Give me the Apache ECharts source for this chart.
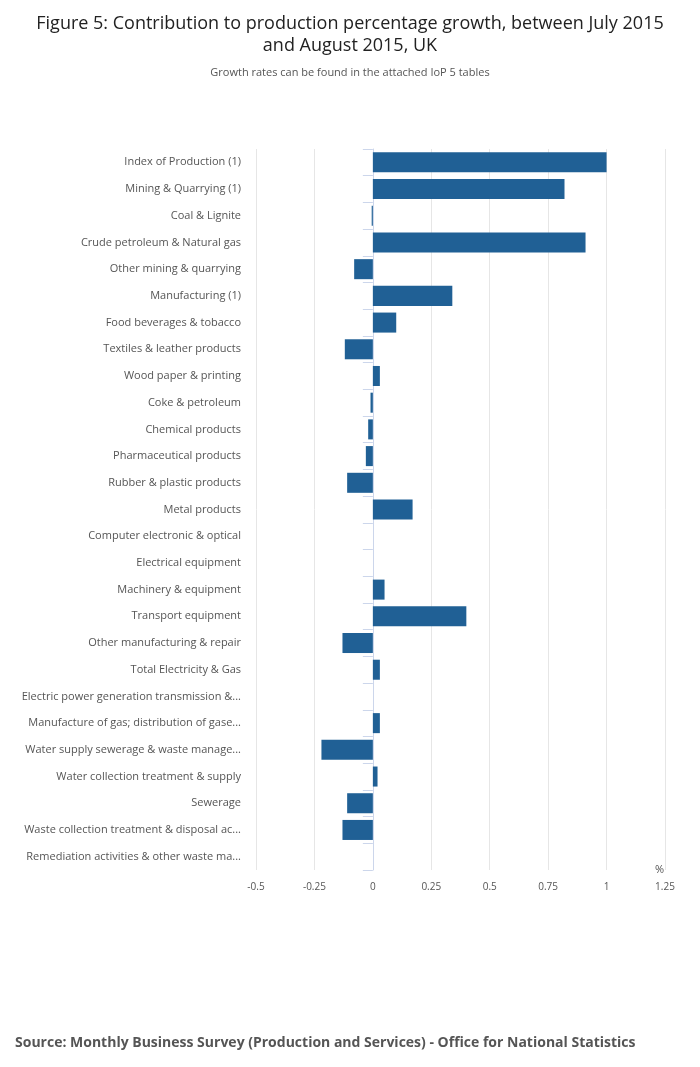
<!DOCTYPE html>
<html>
<head>
<meta charset="utf-8">
<script src="https://cdn.jsdelivr.net/npm/echarts@6/dist/echarts.min.js"></script>
<style>body{margin:0;background:#fff}#c{width:700px;height:1067px}</style>
</head>
<body>
<div id="c"></div>
<script>
var categories = ['Index of Production (1)', 'Mining & Quarrying (1)', 'Coal & Lignite', 'Crude petroleum & Natural gas',
  'Other mining & quarrying', 'Manufacturing (1)', 'Food beverages & tobacco', 'Textiles & leather products',
  'Wood paper & printing', 'Coke & petroleum', 'Chemical products', 'Pharmaceutical products',
  'Rubber & plastic products', 'Metal products', 'Computer electronic & optical', 'Electrical equipment',
  'Machinery & equipment', 'Transport equipment', 'Other manufacturing & repair', 'Total Electricity & Gas',
  'Electric power generation transmission &...', 'Manufacture of gas; distribution of gase...',
  'Water supply sewerage & waste manage...', 'Water collection treatment & supply', 'Sewerage',
  'Waste collection treatment & disposal ac...', 'Remediation activities & other waste ma...'];
var values = [1.0, 0.82, -0.005, 0.91, -0.08, 0.34, 0.1, -0.12, 0.03, -0.01, -0.02, -0.03, -0.11, 0.17,
  0, 0, 0.05, 0.4, -0.13, 0.03, 0, 0.03, -0.22, 0.02, -0.11, -0.13, 0];
var xTicks = [-0.5, -0.25, 0, 0.25, 0.5, 0.75, 1, 1.25];

var chart = echarts.init(document.getElementById('c'));
chart.setOption({
  title: [{
    text: 'Figure 5: Contribution to production percentage growth, between July 2015\nand August 2015, UK',
    left: 'center', top: 8,
    textStyle: {fontFamily: 'Open Sans', fontSize: 18, fontWeight: 'normal', color: '#222', lineHeight: 22},
    subtext: 'Growth rates can be found in the attached IoP 5 tables',
    subtextStyle: {fontFamily: 'Open Sans', fontSize: 11, color: '#555'}, itemGap: 10
  }, {
    text: 'Source: Monthly Business Survey (Production and Services) - Office for National Statistics',
    left: 10, top: 1031,
    textStyle: {fontFamily: 'Open Sans', fontSize: 14, fontWeight: 'bold', color: '#555'}
  }],
  grid: {left: 256, right: 35, top: 149, bottom: 197},
  xAxis: {
    type: 'value', min: -0.5, max: 1.25, interval: 0.25,
    name: '%', nameLocation: 'end', nameGap: 0,
    nameTextStyle: {fontFamily: 'Open Sans', fontSize: 11, color: '#555', padding: [45, 0, 0, -10]},
    axisLine: {show: false}, axisTick: {show: false},
    axisLabel: {fontFamily: 'Open Sans', fontSize: 10, color: '#555', margin: 12,
      formatter: function (v) { return xTicks.indexOf(v) >= 0 ? String(v) : ''; }},
    splitLine: {lineStyle: {color: '#e6e6e6'}}
  },
  yAxis: {
    type: 'category', data: categories, inverse: true,
    axisLine: {show: true, lineStyle: {color: '#ccd6eb'}},
    axisTick: {show: true, length: 10, lineStyle: {color: '#ccd6eb'}},
    axisLabel: {fontFamily: 'Open Sans', fontSize: 11, color: '#555', margin: 15}
  },
  series: [{
    type: 'bar', data: values, barWidth: '75%',
    itemStyle: {color: '#206095'}
  }]
});
</script>
</body>
</html>
